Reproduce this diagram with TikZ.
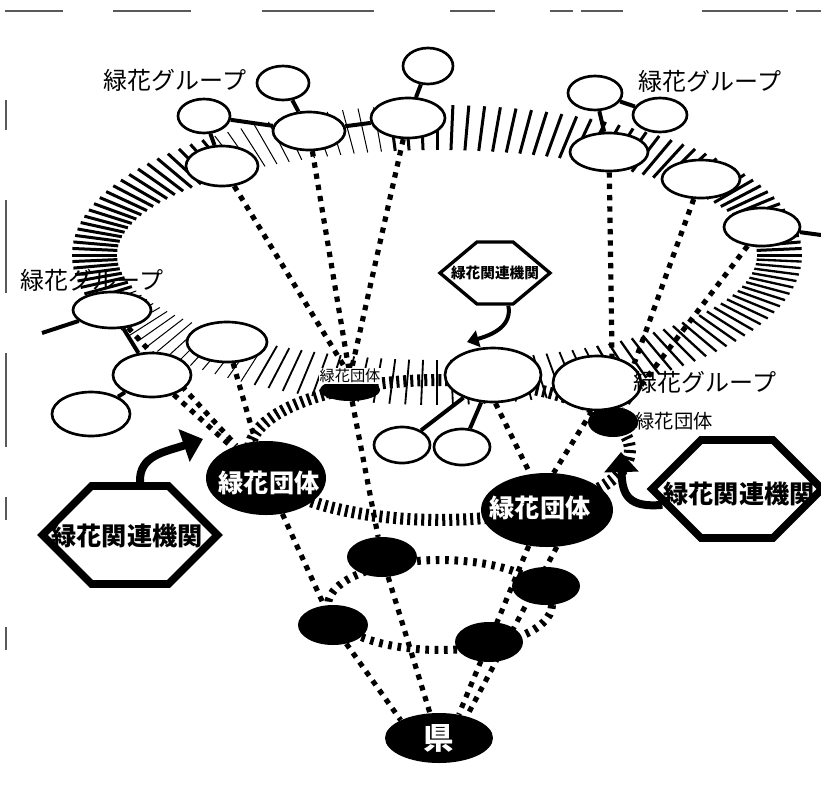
\documentclass[tikz,border=0pt]{standalone}
\usepackage{fontspec}
\newfontfamily\jp{Noto Sans CJK JP}
\usetikzlibrary{shapes.geometric,shapes.symbols,arrows.meta}
\pgfdeclarelayer{rings}
\pgfdeclarelayer{links}
\pgfsetlayers{rings,links,main}

\tikzset{
  scanline/.style={line width=0.4mm, black!65},
  wgrp/.style 2 args={ellipse, draw, fill=white, line width=0.8mm, inner sep=0pt,
    minimum width=#1*0.6mm, minimum height=#2*0.6mm},
  dgrp/.style 2 args={ellipse, fill=black, inner sep=0pt,
    minimum width=#1*0.6mm, minimum height=#2*0.6mm},
  hexa/.style={signal, signal to=west and east, draw, fill=white, line width=2.3mm, inner sep=0pt},
  dotline/.style={line width=1.55mm, dash pattern=on 1.6mm off 1.8mm},
  solidlink/.style={line width=1.2mm},
  midband/.style={line width=3.6mm, dash pattern=on 0.9mm off 1.2mm},
  lowband/.style={line width=2.4mm, dash pattern=on 1.1mm off 1.7mm},
  grplab/.style={font=\jp\fontsize{20.5}{24}\selectfont, inner sep=1pt},
  dantai/.style={font=\jp\bfseries\fontsize{21.5}{26}\selectfont, text=white, inner sep=0pt},
  kikan/.style={font=\jp\bfseries\fontsize{21.5}{26}\selectfont, inner sep=0pt},
  bigarrow/.style={line width=2.4mm, -{Triangle[length=6mm, width=10mm]}},
  smallarrow/.style={line width=1.2mm, -{Triangle[length=3.5mm, width=5mm]}},
}

\begin{document}
\begin{tikzpicture}[x=0.3mm, y=-0.3mm]
\useasboundingbox (0,0) rectangle (821,793);

% edges of the scan
\foreach \a/\b in {5/63,113/191,262/374,450/495,550/573,581/623,702/788,796/821}
  \draw[scanline] (\a,11) -- (\b,11);
\foreach \a/\b in {100/130,200/293,353/447,497/520,627/650}
  \draw[scanline] (6,\a) -- (6,\b);

% groups on the outer ring
\node[wgrp={36}{20}] (a1) at (222,166) {};
\node[wgrp={26}{17}] (a2) at (204,116) {};
\node[wgrp={36}{19}] (a3) at (309,131) {};
\node[wgrp={26}{17}] (a4) at (283,83) {};
\node[wgrp={37}{20}] (a5) at (408,118) {};
\node[wgrp={25}{18}] (a6) at (428,66) {};
\node[wgrp={27}{17}] (b1) at (595,93) {};
\node[wgrp={27}{17}] (b2) at (660,115) {};
\node[wgrp={39}{19}] (b3) at (609,152) {};
\node[wgrp={39}{19}] (b4) at (701,179) {};
\node[wgrp={38}{19}] (b5) at (762,227) {};
\node[wgrp={39}{18}] (c1) at (112,310) {};
\node[wgrp={39}{22}] (c2) at (152,375) {};
\node[wgrp={39}{22}] (c3) at (91,414) {};
\node[wgrp={40}{20}] (c4) at (227,342) {};

% dark nodes
\node[dgrp={30}{11}] (g) at (350,390) {};
\node[font=\jp\fontsize{13}{15}\selectfont, fill=white, inner sep=0.5pt] (gt) at (350,376) {緑花団体};
\node[dgrp={25}{15}] (e3) at (613,422) {};
\node[wgrp={48}{27}] (d1) at (493,375) {};
\node[wgrp={44}{27}] (d2) at (597,383) {};
\node[wgrp={28}{18}] (d3) at (402,445) {};
\node[wgrp={28}{18}] (d4) at (462,447) {};
\node[dgrp={60}{37}] (e1) at (266,478) {};
\node[dantai] (e1t) at (269,483) {緑花団体};
\node[dgrp={66}{37}] (e2) at (547,510) {};
\node[dantai] (e2t) at (540,508) {緑花団体};
\node[dgrp={35}{20}] (f1) at (382,557) {};
\node[dgrp={35}{20}] (f2) at (333,625) {};
\node[dgrp={34}{19}] (f3) at (546,586) {};
\node[dgrp={34}{20}] (f4) at (489,642) {};
\node[dgrp={54}{25}, text=white, font=\jp\bfseries\fontsize{26}{30}\selectfont] (ken) at (439,738) {県};

% labels
\node[grplab] (lab1) at (175,80) {緑花グループ};
\node[grplab] (lab2) at (710,81) {緑花グループ};
\node[grplab] (lab3) at (92,280) {緑花グループ};
\node[grplab] (lab4) at (705,382) {緑花グループ};
\node[font=\jp\fontsize{16.5}{19}\selectfont, inner sep=0pt] (e3t) at (674,421) {緑花団体};

% related bodies
\node[hexa, minimum width=52.5mm, minimum height=29.4mm] (h1) at (130,535) {};
\node[kikan] (h1t) at (127,536) {緑花関連機関};
\node[hexa, minimum width=51mm, minimum height=29.4mm] (h2) at (737,489) {};
\node[kikan] (h2t) at (739,494) {緑花関連機関};
\node[hexa, line width=1mm, minimum width=33mm, minimum height=18.6mm, signal pointer angle=80] (sh) at (495,273) {};
\node[font=\jp\bfseries\fontsize{12.5}{14}\selectfont, inner sep=0pt] (sht) at (495,273) {緑花関連機関};

\coordinate (h1tip) at (203,439);
\coordinate (h2tip) at (621,452);
\coordinate (shtip) at (467,342);
\draw[bigarrow] ([xshift=3mm]h1.north) .. controls (139,455) and (165,452) .. (h1tip);
\draw[bigarrow] (h2.192) .. controls (628,508) and (622,495) .. (h2tip);
\draw[smallarrow] ([xshift=4mm]sh.south) .. controls (512,325) and (495,334) .. (shtip);

\begin{pgfonlayer}{rings}
  \foreach \t in {0,2.5,...,357.5}{
    \pgfmathsetmacro\w{(\t<100||(\t>=130&&\t<200))?0.9:(\t<240?0.3:(\t<300?0.55:0.7))}
    \draw[line width=\w mm] ({437+320*cos(\t)},{255-105*sin(\t)}) -- ({437+365*cos(\t)},{255-150*sin(\t)});
  }
  \draw[midband] (440,450) ellipse [x radius=190, y radius=70];
  \draw[lowband] (440,605) ellipse [x radius=112, y radius=45];
\end{pgfonlayer}

\begin{pgfonlayer}{links}
  \coordinate (c1end) at (42,333);
  \coordinate (b5end) at (821,235);
  \draw[solidlink] (a2) -- (a1);
  \draw[solidlink] (a2) -- (a3);
  \draw[solidlink] (a4) -- (a3);
  \draw[solidlink] (a3) -- (a5);
  \draw[solidlink] (a6) -- (a5);
  \draw[solidlink] (b1) -- (b2);
  \draw[solidlink] (b1) -- (b3);
  \draw[solidlink] (c1) -- (c2);
  \draw[solidlink] (c2) -- (c3);
  \draw[solidlink] (c1) -- (c1end);
  \draw[solidlink] (b5) -- (b5end);
  \draw[solidlink] (d1) -- (d3);
  \draw[solidlink] (d1) -- (d4);
  % dotted ties
  \draw[dotline] (a1) -- (gt);
  \draw[dotline] (a3) -- (gt);
  \draw[dotline] (a5) -- (gt);
  \draw[dotline] (g) -- (f1);
  \draw[dotline] (c1) -- (e1);
  \draw[dotline] (c2) -- (e1);
  \draw[dotline] (c4) -- (e1);
  \draw[dotline] (e1) -- (f2);
  \draw[dotline] (b3) -- (e3);
  \draw[dotline] (b4) -- (e3);
  \draw[dotline] (b5) -- (e3);
  \draw[dotline] (d1.275) -- (e2.115);
  \draw[dotline] (d2.260) -- (e2.80);
  \draw[dotline] (e2.243) -- (ken.50);
  \draw[dotline] (e2.285) -- (ken.38);
  \draw[dotline] (f1) -- (ken.110);
  \draw[dotline] (f2) -- (ken.155);
\end{pgfonlayer}
\end{tikzpicture}
\end{document}
